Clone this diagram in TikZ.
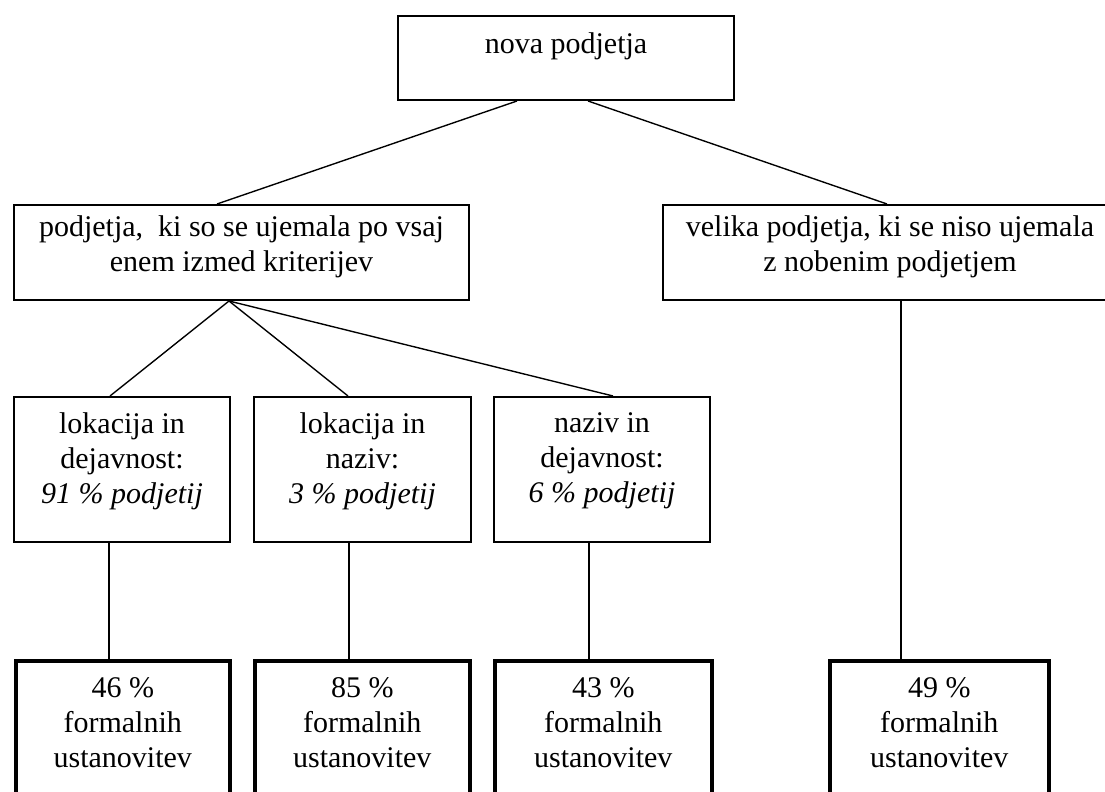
\documentclass[tikz,border=0pt]{standalone}
\usepackage{fontspec}
\setmainfont{Liberation Serif}
\usetikzlibrary{positioning,calc}

\tikzset{
    okvir/.style={draw, line width=0.8pt, anchor=north west, inner sep=0pt},
    debel/.style={okvir, line width=1.4pt},
    besedilo/.style={align=center, inner sep=0pt, font=\fontsize{12}{14}\selectfont},
    povezava/.style={line width=0.55pt}
}

\begin{document}
\begin{tikzpicture}[x=0.4pt,y=-0.4pt]
    \clip (0,0) rectangle (1105,792);

    \node [okvir, minimum width=134.4pt, minimum height=33.6pt] (nova) at (397,15) {};
    \node [besedilo, below=7pt of nova.north] (nova-t) {nova podjetja};

    \node [okvir, minimum width=182pt, minimum height=38pt] (levo) at (13,204) {};
    \node [besedilo, below=4.6pt of levo.north] (levo-t) {podjetja,\ \ ki so se ujemala po vsaj\\enem izmed kriterijev};
    \node [okvir, minimum width=181.6pt, minimum height=38pt] (desno) at (662,204) {};
    \node [besedilo, below=4.6pt of desno.north] (desno-t) {velika podjetja, ki se niso ujemala\\z nobenim podjetjem};

    \node [okvir, minimum width=86.4pt, minimum height=58pt] (k1) at (13,396) {};
    \node [besedilo, below=6.6pt of k1.north] (k1-t) {lokacija in\\dejavnost:\\\textit{91 \% podjetij}};
    \node [okvir, minimum width=86.8pt, minimum height=58pt] (k2) at (253,396) {};
    \node [besedilo, below=6.6pt of k2.north] (k2-t) {lokacija in\\naziv:\\\textit{3 \% podjetij}};
    \node [okvir, minimum width=86.4pt, minimum height=58pt] (k3) at (493,396) {};
    \node [besedilo, below=6.6pt of k3.north] (k3-t) {naziv in\\dejavnost:\\\textit{6 \% podjetij}};

    \node [debel, minimum width=85.6pt, minimum height=60pt] (u1) at (14,659) {};
    \node [besedilo, below=7.4pt of u1.north] (u1-t) {46 \%\\formalnih\\ustanovitev};
    \node [debel, minimum width=86pt, minimum height=60pt] (u2) at (253,659) {};
    \node [besedilo, below=7.4pt of u2.north] (u2-t) {85 \%\\formalnih\\ustanovitev};
    \node [debel, minimum width=86.8pt, minimum height=60pt] (u3) at (493,659) {};
    \node [besedilo, below=7.4pt of u3.north] (u3-t) {43 \%\\formalnih\\ustanovitev};
    \node [debel, minimum width=87.6pt, minimum height=60pt] (u4) at (828,659) {};
    \node [besedilo, below=7.4pt of u4.north] (u4-t) {49 \%\\formalnih\\ustanovitev};

    \draw [povezava] ($(nova.south west)+(120,0)$) -- ($(levo.north west)+(204,0)$);
    \draw [povezava] ($(nova.south west)+(191,0)$) -- ($(desno.north west)+(225,0)$);

    \foreach \k/\dx in {k1/97, k2/95, k3/120}
        \draw [povezava] ($(levo.south west)+(216,0)$) -- ($(\k.north west)+(\dx,0)$);

    \foreach \k/\u in {k1/u1, k2/u2, k3/u3}
        \draw [povezava] ($(\k.south west)+(96,0)$) coordinate (z) -- (z |- \u.north);
    \draw [povezava] ($(desno.south west)+(239,0)$) coordinate (z) -- (z |- u4.north);
\end{tikzpicture}
\end{document}
